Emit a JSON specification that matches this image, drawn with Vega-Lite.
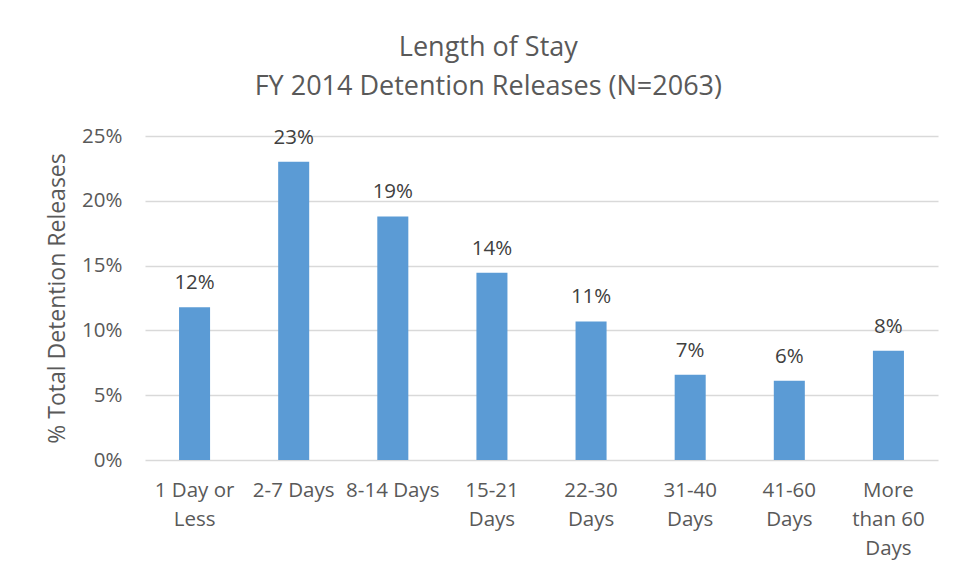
{
  "$schema": "https://vega.github.io/schema/vega-lite/v6.json",
  "width": 793,
  "height": 324,
  "autosize": {"type": "none"},
  "padding": {"left": 145, "top": 136, "right": 17, "bottom": 118},
  "background": "white",
  "title": {
    "text": ["Length of Stay", "FY 2014 Detention Releases (N=2063)"],
    "fontSize": 27,
    "font": "Open Sans",
    "fontWeight": "normal",
    "color": "#595959",
    "lineHeight": 39,
    "anchor": "middle",
    "frame": "bounds",
    "offset": 25,
    "dx": -4
  },
  "data": {
    "values": [
      {"stay": "1 Day or Less", "pct": 0.1179},
      {"stay": "2-7 Days", "pct": 0.2301},
      {"stay": "8-14 Days", "pct": 0.1879},
      {"stay": "15-21 Days", "pct": 0.1445},
      {"stay": "22-30 Days", "pct": 0.1069},
      {"stay": "31-40 Days", "pct": 0.0657},
      {"stay": "41-60 Days", "pct": 0.0611},
      {"stay": "More than 60 Days", "pct": 0.0843}
    ]
  },
  "encoding": {
    "x": {
      "field": "stay",
      "type": "nominal",
      "sort": null,
      "scale": {"paddingInner": 0.687, "paddingOuter": 0.3435},
      "axis": {
        "title": null,
        "labelAngle": 0,
        "domain": false,
        "ticks": false,
        "labelFont": "Open Sans",
        "labelFontSize": 20.5,
        "labelColor": "#595959",
        "labelPadding": 20,
        "labelLineHeight": 29,
        "labelExpr": "datum.value == '1 Day or Less' ? ['1 Day or', 'Less'] : datum.value == '15-21 Days' ? ['15-21', 'Days'] : datum.value == '22-30 Days' ? ['22-30', 'Days'] : datum.value == '31-40 Days' ? ['31-40', 'Days'] : datum.value == '41-60 Days' ? ['41-60', 'Days'] : datum.value == 'More than 60 Days' ? ['More', 'than 60', 'Days'] : datum.value"
      }
    },
    "y": {
      "field": "pct",
      "type": "quantitative",
      "scale": {"domain": [0, 0.25]},
      "axis": {
        "title": "% Total Detention Releases",
        "titleFont": "Open Sans",
        "titleFontSize": 23,
        "titleFontWeight": "normal",
        "titleColor": "#595959",
        "titlePadding": 12,
        "format": ".0%",
        "values": [0, 0.05, 0.1, 0.15, 0.2, 0.25],
        "domain": false,
        "ticks": false,
        "labelFont": "Open Sans",
        "labelFontSize": 20.5,
        "labelColor": "#595959",
        "labelPadding": 23,
        "grid": true,
        "gridColor": "#d9d9d9",
        "gridWidth": 1.4
      }
    }
  },
  "layer": [
    {"mark": {"type": "bar", "color": "#5b9bd5"}},
    {
      "mark": {"type": "text", "font": "Open Sans", "fontSize": 20.5, "color": "#404040", "baseline": "alphabetic", "dy": -18},
      "encoding": {"text": {"field": "pct", "type": "quantitative", "format": ".0%"}}
    }
  ],
  "config": {"view": {"stroke": null}}
}
